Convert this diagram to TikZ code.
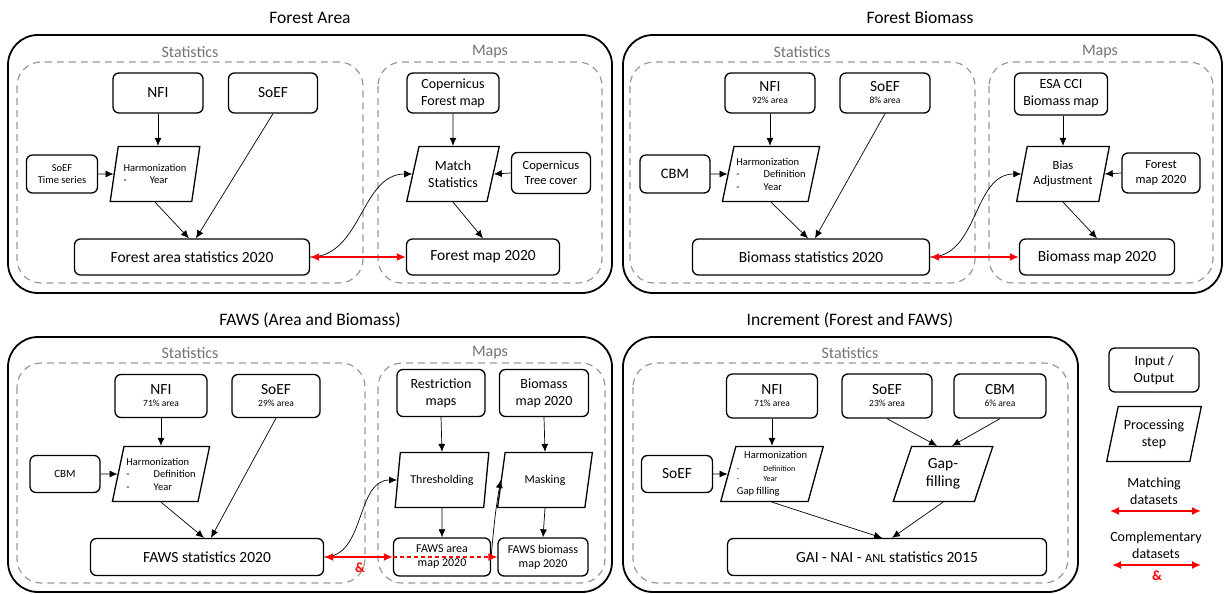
\documentclass[tikz,border=0pt]{standalone}
\usepackage{fontspec}
\setmainfont{Carlito}
\usetikzlibrary{arrows.meta,shapes.geometric,calc}
\newcommand{\fTitle}{\fontsize{17.5}{20}\selectfont}
\newcommand{\fGroup}{\fontsize{16}{18}\selectfont}
\newcommand{\fBig}{\fontsize{15.5}{18}\selectfont}
\newcommand{\fMid}{\fontsize{14}{17}\selectfont}
\newcommand{\fSmall}{\fontsize{10.5}{12.5}\selectfont}
\newcommand{\fTiny}{\fontsize{9.5}{11}\selectfont}
\newcommand{\fMicro}{\fontsize{8}{9.5}\selectfont}
\tikzstyle{dataBox}=[draw, rounded corners=6pt, line width=1.3pt, align=center, inner sep=1pt, font=\fBig]
\tikzstyle{procStep}=[draw, trapezium, trapezium left angle=72, trapezium right angle=108, trapezium stretches=true, line width=1.3pt, align=center, inner sep=1pt, font=\fSmall]
\tikzstyle{flowArrow}=[line width=0.7pt, -{Latex[length=8pt,width=7pt]}]
\tikzstyle{linkArc}=[line width=0.7pt, -{Latex[length=8pt,width=7pt]}]
\tikzstyle{matchArrow}=[line width=1.6pt, red, {Latex[length=9pt,width=8pt]}-{Latex[length=9pt,width=8pt]}]
\tikzstyle{complArrow}=[line width=1.3pt, red, dash pattern=on 4pt off 3pt, -{Latex[length=9pt,width=8pt]}]
\tikzstyle{panelFrame}=[draw, line width=1.8pt, rounded corners=30pt]
\tikzstyle{groupFrame}=[draw=black!40, line width=1.2pt, dash pattern=on 7pt off 5pt, rounded corners=24pt]
\tikzstyle{panelTitle}=[font=\fTitle]
\tikzstyle{groupLabel}=[text=black!55, font=\fGroup]
\tikzstyle{andLabel}=[text=red, font=\fMid\bfseries]

\begin{document}
\begin{tikzpicture}[x=1pt, y=-1pt]
    \useasboundingbox (0,0) rectangle (1229,594);

    % Frames
    \draw[panelFrame] (8,35) rectangle (612,293);
    \draw[panelFrame] (623,35) rectangle (1222,293);
    \draw[panelFrame] (8,337) rectangle (612,592);
    \draw[panelFrame] (623,337) rectangle (1078,592);
    \draw[groupFrame] (17,62) rectangle (363,283);
    \draw[groupFrame] (378,62) rectangle (602,283);
    \draw[groupFrame] (630,62) rectangle (975,283);
    \draw[groupFrame] (989,62) rectangle (1213,283);
    \draw[groupFrame] (17,363) rectangle (365,583);
    \draw[groupFrame] (378,363) rectangle (605,583);
    \draw[groupFrame] (633,363) rectangle (1068,583);

    % Titles
    \node[panelTitle] (faTitle) at (310,18) {Forest Area};
    \node[panelTitle] (fbTitle) at (920,18) {Forest Biomass};
    \node[panelTitle] (fwTitle) at (310,320) {FAWS (Area and Biomass)};
    \node[panelTitle] (inTitle) at (850,320) {Increment (Forest and FAWS)};
    \node[groupLabel] (faStatLbl) at (190,52) {Statistics};
    \node[groupLabel] (faMapLbl) at (490,52) {Maps};
    \node[groupLabel] (fbStatLbl) at (802,52) {Statistics};
    \node[groupLabel] (fbMapLbl) at (1100,52) {Maps};
    \node[groupLabel] (fwStatLbl) at (190,353) {Statistics};
    \node[groupLabel] (fwMapLbl) at (490,353) {Maps};
    \node[groupLabel] (inStatLbl) at (850,353) {Statistics};

    % Forest Area Nodes
    \node[dataBox, minimum width=90, minimum height=40] (faNFI) at (158,93) {NFI};
    \node[dataBox, minimum width=89, minimum height=40] (faSoEF) at (273,93) {SoEF};
    \node[dataBox, minimum width=71, minimum height=38, font=\fSmall] (faTimeSeries) at (62,174) {SoEF\\Time series};
    \node[procStep, minimum width=90, minimum height=55, align=left] (faHarm) at (155,174) {Harmonization\\-\hspace{2.2em}Year};
    \node[dataBox, minimum width=235, minimum height=36] (faStats) at (192,257) {Forest area statistics 2020};
    \node[dataBox, minimum width=92, minimum height=40, font=\fMid] (faCopForest) at (453,93) {Copernicus\\Forest map};
    \node[procStep, minimum width=93, minimum height=55, font=\fMid] (faMatch) at (453,174) {Match\\Statistics};
    \node[dataBox, minimum width=79, minimum height=41, font=\fontsize{12.5}{15}\selectfont] (faCopTree) at (551,173) {Copernicus\\Tree cover};
    \node[dataBox, minimum width=153, minimum height=36] (faMap) at (483,257) {Forest map 2020};

    % Forest Area Arcs
    \draw[flowArrow] (faNFI.south) -- (faNFI.south |- faHarm.north);
    \draw[flowArrow] (faTimeSeries.east) -- (faHarm);
    \draw[flowArrow] (faHarm.south) -- ($(faStats.north)+(-3,0)$);
    \draw[flowArrow] (faSoEF.south) -- ($(faStats.north)+(4,0)$);
    \draw[flowArrow] (faCopForest.south) -- (faMatch.north);
    \draw[flowArrow] (faCopTree.west) -- (faMatch.east);
    \draw[flowArrow] (faMatch.south) -- (faMap.north);
    \draw[linkArc] (faStats.east) to[out=0,in=180] (faMatch.west);
    \draw[matchArrow] (faStats.east) -- (faMap.west);

    % Forest Biomass Nodes
    \node[dataBox, minimum width=90, minimum height=40] (fbNFI) at (770,93) {NFI\\[-6pt]{\fTiny 92\% area}};
    \node[dataBox, minimum width=90, minimum height=40] (fbSoEF) at (885,93) {SoEF\\[-6pt]{\fTiny 8\% area}};
    \node[dataBox, minimum width=70, minimum height=38, font=\fontsize{14.5}{17}\selectfont] (fbCBM) at (675,174) {CBM};
    \node[procStep, minimum width=98, minimum height=55, align=left] (fbHarm) at (771,174) {Harmonization\\-\hspace{2.3em}Definition\\-\hspace{2.3em}Year};
    \node[dataBox, minimum width=237, minimum height=36] (fbStats) at (811,257) {Biomass statistics 2020};
    \node[dataBox, minimum width=93, minimum height=42, font=\fMid] (fbESA) at (1061,94) {ESA CCI\\Biomass map};
    \node[procStep, minimum width=93, minimum height=55, font=\fontsize{12.5}{15}\selectfont] (fbBias) at (1063,174) {Bias\\Adjustment};
    \node[dataBox, minimum width=78, minimum height=40, font=\fontsize{12.5}{15}\selectfont] (fbForestMap) at (1161,173) {Forest\\map 2020};
    \node[dataBox, minimum width=155, minimum height=36] (fbMap) at (1097,257) {Biomass map 2020};

    % Forest Biomass Arcs
    \draw[flowArrow] (fbNFI.south) -- (fbNFI.south |- fbHarm.north);
    \draw[flowArrow] (fbCBM.east) -- (fbHarm);
    \draw[flowArrow] (fbHarm.south) -- ($(fbStats.north)+(-3,0)$);
    \draw[flowArrow] (fbSoEF.south) -- ($(fbStats.north)+(4,0)$);
    \draw[flowArrow] (fbESA.south -| fbBias.north) -- (fbBias.north);
    \draw[flowArrow] (fbForestMap.west) -- (fbBias.east);
    \draw[flowArrow] (fbBias.south) -- (fbMap.north);
    \draw[linkArc] (fbStats.east) to[out=0,in=180] (fbBias.west);
    \draw[matchArrow] (fbStats.east) -- (fbMap.west);

    % FAWS Nodes
    \node[dataBox, minimum width=92, minimum height=43] (fwNFI) at (161,396) {NFI\\[-6pt]{\fTiny 71\% area}};
    \node[dataBox, minimum width=88, minimum height=43] (fwSoEF) at (276,396) {SoEF\\[-6pt]{\fTiny 29\% area}};
    \node[dataBox, minimum width=70, minimum height=37, font=\fontsize{11}{13}\selectfont] (fwCBM) at (65,474) {CBM};
    \node[procStep, minimum width=98, minimum height=55, align=left] (fwHarm) at (161,474) {Harmonization\\-\hspace{2.3em}Definition\\-\hspace{2.3em}Year};
    \node[dataBox, minimum width=233, minimum height=37] (fwStats) at (207,557) {FAWS statistics 2020};
    \node[dataBox, minimum width=88, minimum height=47, font=\fMid] (fwRestr) at (441,393) {Restriction\\maps};
    \node[dataBox, minimum width=89, minimum height=47, font=\fMid] (fwBioMap) at (544,393) {Biomass\\map 2020};
    \node[procStep, minimum width=94, minimum height=55, font=\fontsize{12}{14}\selectfont] (fwThresh) at (442,480) {Thresholding};
    \node[procStep, minimum width=95, minimum height=55, font=\fontsize{12}{14}\selectfont] (fwMask) at (545,480) {Masking};
    \node[dataBox, minimum width=97, minimum height=38, font=\fontsize{12}{14}\selectfont] (fwAreaMap) at (442,557) {FAWS area\\map 2020};
    \node[dataBox, minimum width=90, minimum height=38, font=\fontsize{12}{14}\selectfont] (fwBioOut) at (543,557) {FAWS biomass\\map 2020};
    \node[andLabel] (fwAnd) at (360,568) {\&};

    % FAWS Arcs
    \draw[flowArrow] (fwNFI.south) -- (fwNFI.south |- fwHarm.north);
    \draw[flowArrow] (fwCBM.east) -- (fwHarm);
    \draw[flowArrow] (fwHarm.south) -- ($(fwStats.north)+(-3,0)$);
    \draw[flowArrow] (fwSoEF.south) -- ($(fwStats.north)+(4,0)$);
    \draw[flowArrow] (fwRestr.south) -- (fwThresh.north);
    \draw[flowArrow] (fwThresh.south) -- (fwAreaMap.north);
    \draw[flowArrow] (fwBioMap.south) -- (fwMask.north);
    \draw[flowArrow] (fwMask.south) -- (fwBioOut.north);
    \draw[linkArc] (fwStats.east) to[out=0,in=180] (fwThresh.west);
    \draw[linkArc] (fwAreaMap.east) to[out=85,in=-100] (fwMask.west);
    \draw[complArrow] (fwAreaMap.west) -- (fwBioOut.west);
    \draw[matchArrow] (fwStats.east) -- (fwAreaMap.west);

    % Increment Nodes
    \node[dataBox, minimum width=91, minimum height=44] (inNFI) at (772,396) {NFI\\[-6pt]{\fTiny 71\% area}};
    \node[dataBox, minimum width=90, minimum height=44] (inSoEF) at (887,396) {SoEF\\[-6pt]{\fTiny 23\% area}};
    \node[dataBox, minimum width=92, minimum height=44] (inCBM) at (1000,396) {CBM\\[-6pt]{\fTiny 6\% area}};
    \node[dataBox, minimum width=71, minimum height=37] (inSoEFin) at (677,474) {SoEF};
    \node[procStep, minimum width=99, minimum height=55, align=left] (inHarm) at (772,474) {\hspace{0.7em}Harmonization\\{\fMicro -\hspace{3em}Definition}\\[-2pt]{\fMicro -\hspace{3em}Year}\\Gap filling};
    \node[procStep, minimum width=100, minimum height=55, font=\fBig] (inGap) at (943,474) {Gap-\\filling};
    \node[dataBox, minimum width=319, minimum height=37] (inStats) at (887,557) {GAI - NAI - {\fontsize{12.5}{15}\selectfont ANL} statistics 2015};

    % Increment Arcs
    \draw[flowArrow] (inNFI.south) -- (inNFI.south |- inHarm.north);
    \draw[flowArrow] (inSoEFin.east) -- (inHarm);
    \draw[flowArrow] (inHarm.south) -- ($(inStats.north)+(-5,0)$);
    \draw[flowArrow] (inGap.south) -- ($(inStats.north)+(5,0)$);
    \draw[flowArrow] (inSoEF.south) -- ($(inGap.north)+(-6,0)$);
    \draw[flowArrow] (inCBM.south) -- ($(inGap.north)+(9,0)$);

    % Legend
    \node[dataBox, minimum width=90, minimum height=44, font=\fMid] (lgIO) at (1154,370) {Input /\\Output};
    \node[procStep, minimum width=95, minimum height=55, font=\fMid] (lgProc) at (1154,434) {Processing\\step};
    \node[font=\fMid, align=center] (lgMatchTxt) at (1154,491) {Matching\\datasets};
    \node[font=\fMid, align=center] (lgComplTxt) at (1156,545) {Complementary\\datasets};
    \coordinate (lgM1) at (1110,511);
    \coordinate (lgM2) at (1201,511);
    \coordinate (lgC1) at (1112,565);
    \coordinate (lgC2) at (1201,565);
    \draw[matchArrow] (lgM1) -- (lgM2);
    \draw[matchArrow] (lgC1) -- (lgC2);
    \node[andLabel] (lgAnd) at (1157,576) {\&};

\end{tikzpicture}
\end{document}
